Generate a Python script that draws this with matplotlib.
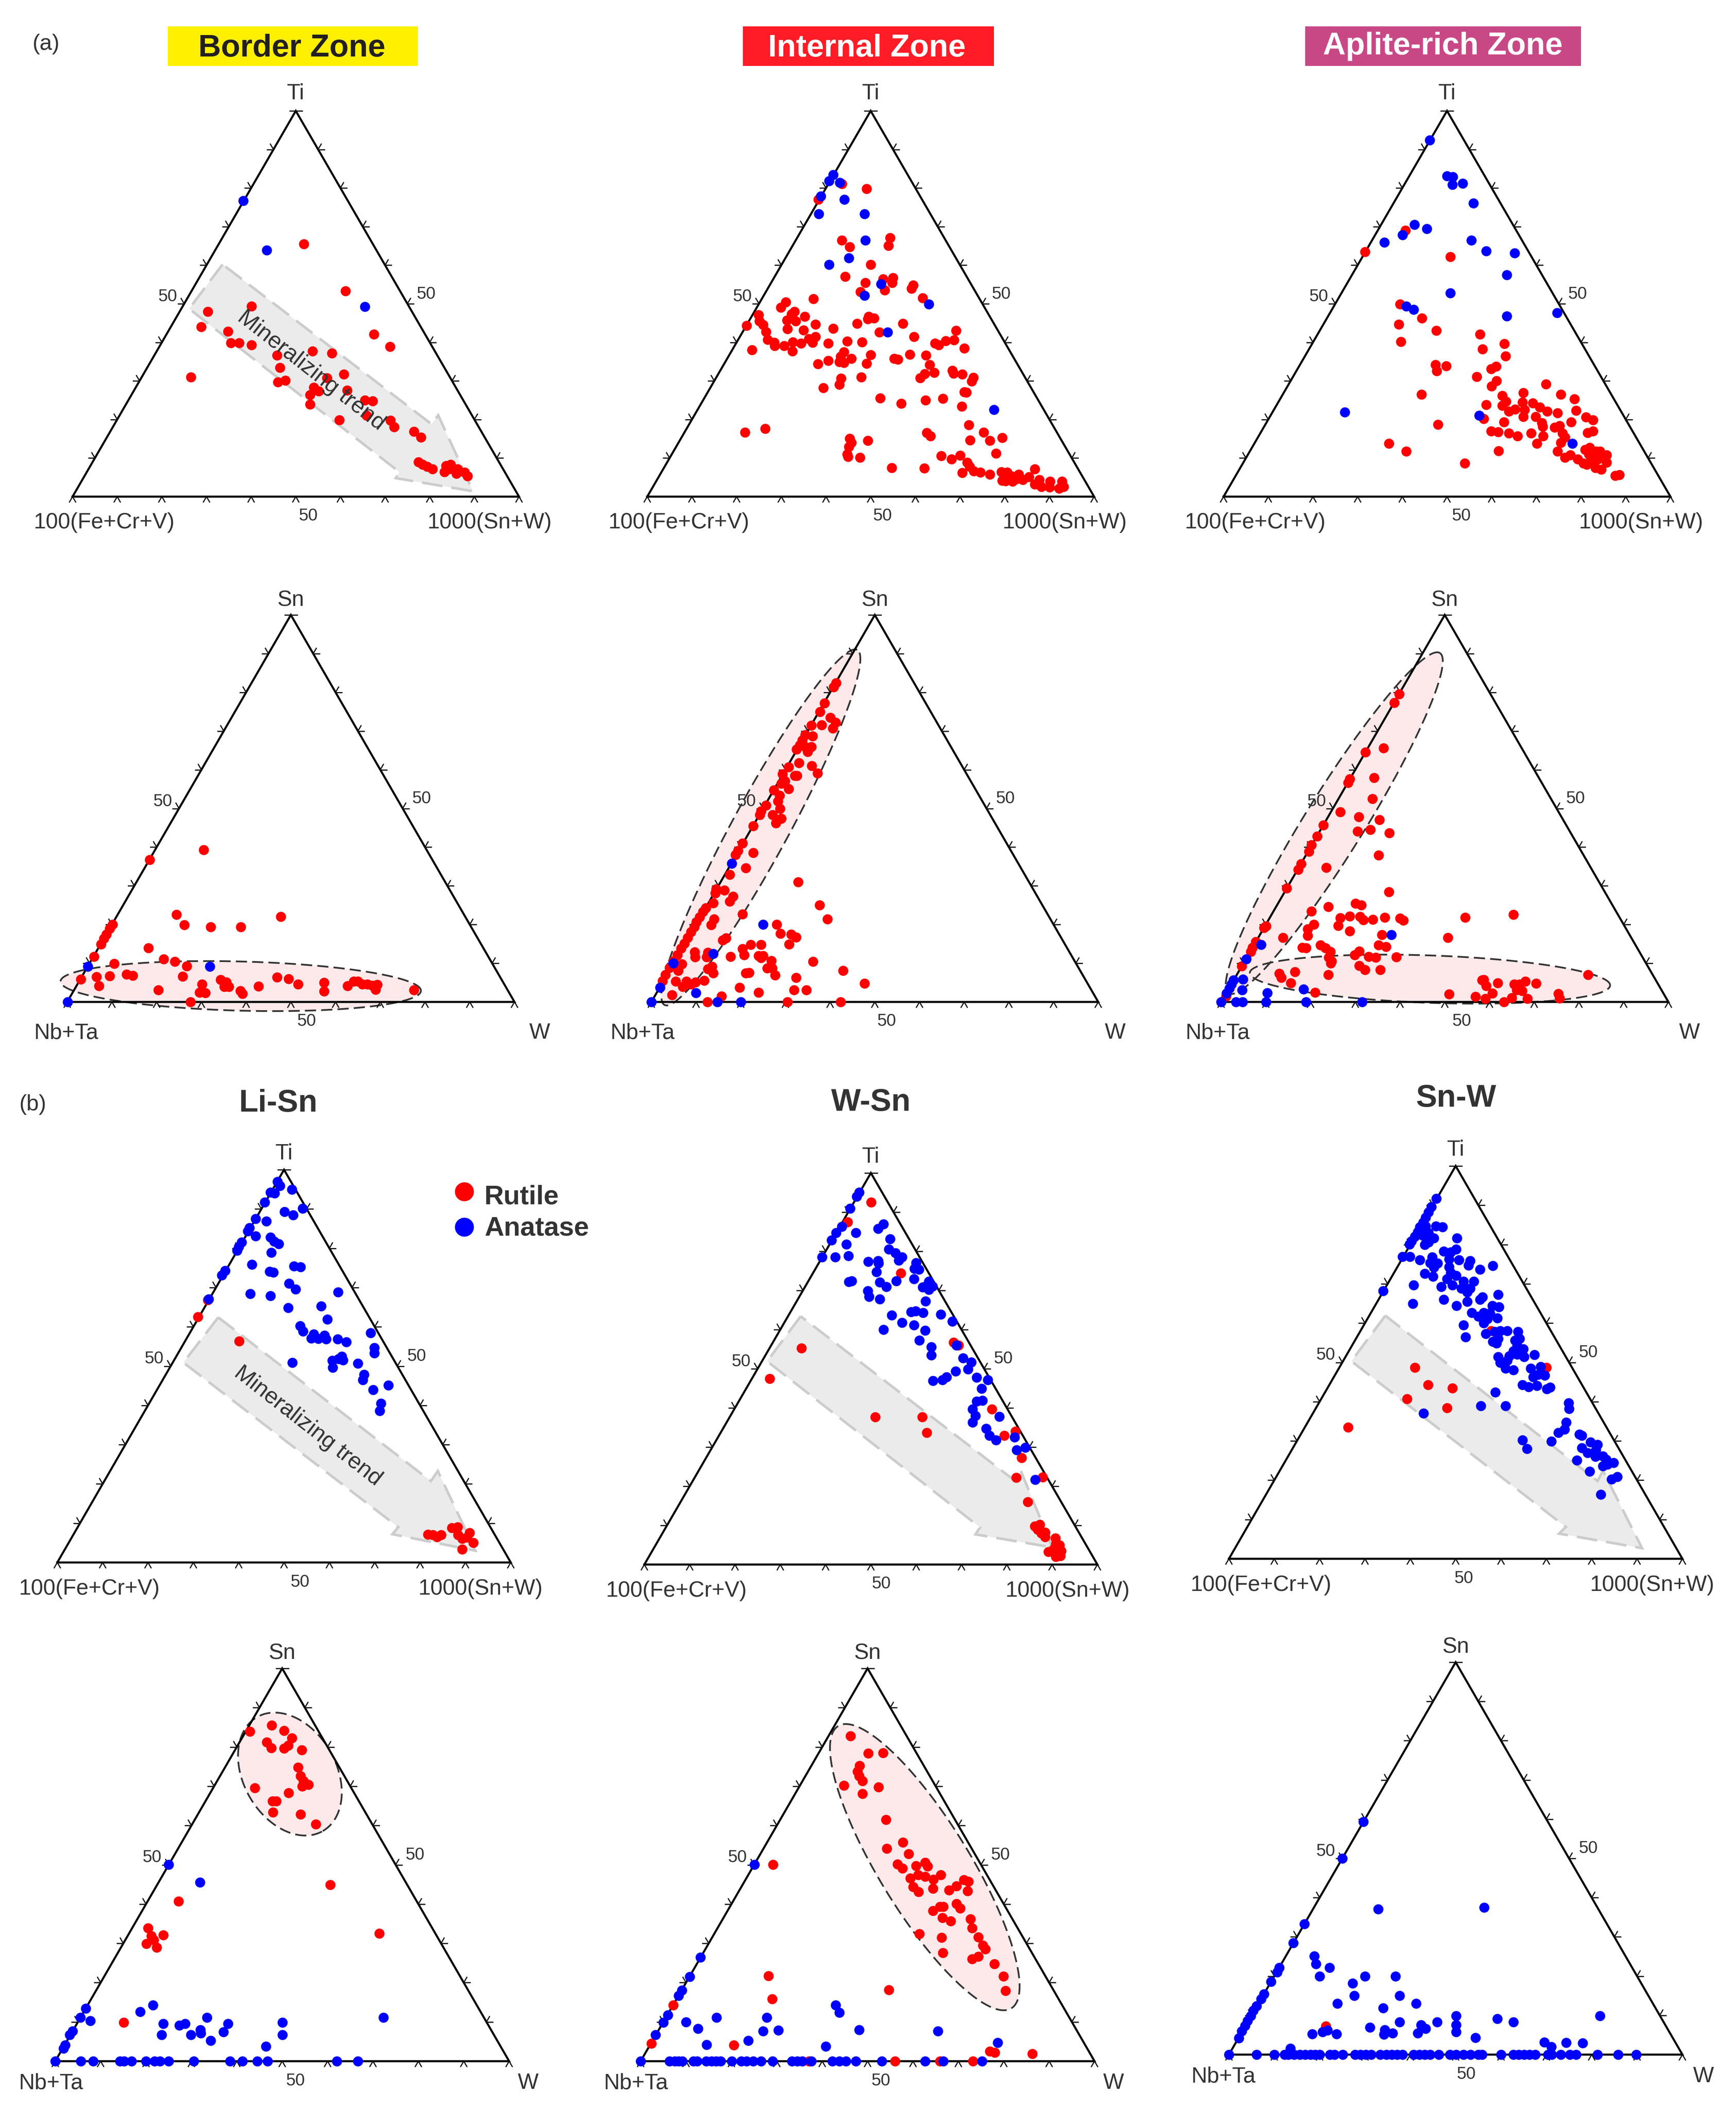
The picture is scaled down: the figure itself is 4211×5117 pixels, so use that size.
import numpy as np
import matplotlib
matplotlib.use("Agg")
import matplotlib.pyplot as plt

plt.rcParams['font.family'] = ['Liberation Sans', 'DejaVu Sans']

# Points are (position along the base in %, height towards the apex in %)

# Border Zone
bz_ti_rutile = [(51.8,65.5),(61.1,53.3),(40.1,49.4),(30.3,48.0),(28.8,44.0),(34.8,42.8),(35.5,39.8),(37.3,39.8),(40.1,39.3),(67.5,42.1),(71.1,38.9),(53.7,37.7),(58.1,37.2),(45.8,36.6),(46.4,33.4),(26.5,31.0),(60.8,31.7),(57.0,30.8),(46.0,29.7),(47.6,30.1),(54.0,28.3),(55.1,27.3),(53.2,26.4),(61.5,27.6),(53.2,23.9),(65.5,25.0),(67.2,24.8),(65.8,21.0),(59.7,19.9),(71.2,19.8),(72.0,18.1),(76.5,16.9),(78.0,15.4),(77.5,9.0),(78.4,8.3),(79.4,7.8),(80.6,7.2),(83.7,8.0),(84.7,8.3),(83.3,6.4),(84.3,7.2),(86.2,7.2),(86,6),(87.8,6.3),(88.5,5.3)]
bz_ti_anatase = [(38.2,76.7),(43.5,63.9),(65.5,49.2)]
bz_sn_rutile = [(30.5,39.3),(18.4,36.7),(24.4,22.6),(26.2,19.9),(32.1,19.4),(38.8,19.4),(47.7,22),(10.1,20),(9.5,19),(8.8,17.5),(8.2,16.4),(7.6,14.9),(6,11.7),(18.2,13.9),(21.6,11.1),(24.1,10.4),(26.7,9.3),(10.5,9.9),(6.5,6.5),(9.5,6.7),(13.3,7.1),(14.7,6.8),(3,5.9),(7.1,4.2),(25.8,6.6),(20.4,3.1),(30.1,4.6),(34.3,5.8),(35.6,5.1),(35.1,3.9),(36.1,3.9),(29.6,2.4),(30.9,2.3),(27.6,0),(38.7,2.9),(39.2,2.1),(42.8,4.1),(46.9,6.4),(49.5,6),(51.6,4.6),(57.4,5),(57.4,2.8),(62.7,4.2),(64.1,5.3),(65,5.3),(66,4.6),(67.1,4.6),(68.2,4.3),(69.3,4.5),(68.9,3.2),(77.5,3.1)]
bz_sn_anatase = [(4.6,9.2),(31.9,9.2),(0.1,0)]

# Internal Zone
iz_ti_rutile = [(43.5,81.1),(49.1,79.8),(38.3,77.0),(54.3,67.1),(54,65.1),(43.5,66.5),(45.3,64.7),(50,60.2),(44.3,57),(48.8,55.5),(52.8,56.4),(55,56.7),(54.8,55.5),(53.1,53.5),(59.5,54.8),(59.1,53.9),(47.7,53.1),(61.6,51.5),(37.2,51.3),(31,50.4),(29.9,49),(32.9,48),(32.3,47.3),(35.2,46.7),(31.3,45.7),(33.2,45.5),(24.9,47.1),(25.1,45.5),(25.9,44.6),(22.2,44.3),(31.4,43.5),(35,43.2),(37.6,44.7),(26.6,42.7),(26.9,40.7),(28.4,40),(28.5,39.1),(30.6,39.1),(32.6,40.1),(34.4,39.7),(36.2,40.9),(37.6,41.5),(37,40),(32.5,37.7),(23.4,38),(41.6,43.6),(47,44.9),(49.5,46.7),(49.4,46),(50.7,46.3),(57.2,44.9),(51.9,42.6),(59.7,41.4),(44.7,40.3),(48.1,40.1),(40.5,39.7),(69.1,43.1),(68.6,40.6),(66.8,40.4),(65.2,39.3),(64.4,39.7),(70.9,38.5),(44,37.5),(43.3,36.3),(45.7,35.8),(43,34.9),(44,34.7),(40.5,35.3),(38.2,34.4),(50,36.7),(49.1,34.5),(55.3,35.8),(56.1,35.6),(58.8,36.9),(62.4,36.6),(63.2,34.2),(64.2,32.2),(62.1,31.8),(61.1,30.8),(68.3,32.7),(68.5,31.9),(70.5,31.7),(73,30.9),(72.6,29.9),(47.9,31),(43.4,30.7),(43,29.1),(39.4,28.2),(70.9,27.1),(71.4,27),(52.1,25.5),(56.8,24.1),(62.3,25),(66.1,25.4),(70.4,23.4),(72,18.6),(75.3,16.7),(79.4,15.3),(76.7,14.5),(72.2,14.6),(62.5,16.6),(63.4,15.7),(78,11.2),(21.9,16.7),(26.4,17.6),(45.3,15.1),(45.7,14),(45.1,12.9),(49.4,14.5),(44.7,11),(44.9,10.4),(47.6,10.1),(54.7,7.5),(62,7.4),(65.8,10.6),(68.1,9.7),(70,10.7),(71.6,8.9),(72.1,7.8),(70.5,6.2),(73.1,6.6),(74.5,6.3),(76.7,5.8),(79.2,6.4),(80.5,6.3),(79.4,4.2),(80.2,4.1),(81.5,5.3),(81.7,3.9),(83.1,5.8),(82.7,4.6),(84,4.4),(85.4,5.1),(86.7,7.2),(86.7,3.2),(87.7,4.4),(88.2,2.6),(90.1,4),(90,2.5),(92.8,4),(92.2,2.1),(93.2,2.6)]
iz_ti_anatase = [(41.6,83.4),(40.7,81.8),(43.1,81.4),(38.8,77.9),(44.1,77),(38.4,73.3),(48.6,73.3),(48.8,66.4),(45.1,61.9),(40.7,60.2),(52.3,55.1),(48.6,52.1),(63,49.9),(53.8,42.6),(77.6,22.5)]
iz_sn_rutile = [(41.3,82.4),(40.8,81.4),(38.7,77.2),(37.7,75),(40,73.5),(41.2,72.2),(38.1,71.6),(40.6,70.7),(35.8,71.5),(34.4,69),(36.1,68.7),(33.8,67.6),(33.2,66.3),(35.8,65.9),(34.4,65.9),(32.5,65.3),(35,64.6),(33,61.8),(30.7,60.7),(35.9,61),(37.2,59.1),(29.3,58.9),(32.1,58.5),(32.6,58.5),(29.9,57.1),(29.1,56.4),(30.7,55.1),(27.4,54.7),(28.7,53.4),(28.3,51.9),(28.8,50),(25.6,50.8),(24.5,49.3),(24.3,48.3),(27.1,48.3),(29.1,47.4),(27.9,46.2),(22.8,45.5),(20.4,41),(19.4,39.1),(18.8,38),(22.8,38.5),(21.1,34.6),(17.5,32.9),(14.5,29.2),(14.3,28.1),(16.3,28.9),(18.3,27.3),(17.5,26),(13.8,25.6),(12.2,24.3),(11.5,23.3),(10.8,21.9),(10.1,20.7),(9.6,19.4),(8.9,18.1),(8.1,16.6),(7.4,15.1),(6.6,13.8),(5.8,12.1),(4.9,10.5),(4.1,8.8),(3.1,7),(2.5,5.4),(20.4,22.7),(14,21.4),(13.4,19.9),(16.7,16.5),(16,16),(9.7,12.9),(9.8,11.6),(12.6,12.8),(12.4,11.6),(6.8,9.8),(6,8.1),(12.6,8.5),(13.6,9.2),(13.8,7.5),(5.4,5.3),(7.8,5.3),(7,3.9),(8.9,4.6),(9.9,5.1),(11.8,5.5),(4.6,1.8),(15.7,1.5),(12.5,0),(32.8,31),(37.6,25),(39.4,21.4),(28,20),(28.9,17.7),(31.3,17.5),(32.4,16.7),(30.8,14.9),(22.2,14.8),(24.5,14.8),(20.4,13.7),(20.8,12.1),(17.7,11.7),(24,11.9),(25,11.9),(24.5,11.4),(26.8,10.7),(25.9,8.7),(27,8.7),(27.7,6.9),(21.1,7.5),(21.9,7.6),(36.2,10.4),(42.9,8.1),(32.4,6.3),(47.7,4.8),(19.7,3.7),(31.9,3.1),(34.7,3.1),(24,2.4),(30.4,0),(42.3,0)]
iz_sn_anatase = [(18,35.8),(25,20),(13.8,12.5),(4.9,10),(1.9,3.7),(10,2.3),(0,0),(14.8,0),(20,0)]

# Aplite-rich Zone
az_ti_rutile = [(40.7,69),(31.6,63.5),(50.7,62.2),(39.5,49.9),(39.2,44.7),(44.4,46.3),(47.6,43.1),(39.7,40.2),(57.4,42.1),(62.8,39.6),(57.9,38.2),(63.1,36.4),(47.4,34.2),(47.7,32.6),(49.8,33.9),(59.9,33.1),(61,33.8),(56.6,31.1),(61.1,30),(60,28.6),(72.1,29.2),(44.3,26.5),(62.4,26.2),(63.2,24.7),(62.4,23.6),(58.8,23.8),(67.1,26.9),(66.9,24.5),(69.2,24.3),(70.8,23.2),(72.4,22.1),(63.8,22.1),(65.2,22.7),(67.3,22.5),(67.1,20.7),(69.8,20.7),(75.5,26.5),(78.5,25.3),(78.9,22.3),(74.7,21.7),(81.1,20.6),(82.7,19.9),(77.8,19.3),(71.2,19.1),(71.4,18.2),(74.1,17.9),(75.2,18.4),(58.2,20.2),(62.7,19.3),(59.9,17),(61.4,16.8),(63.8,16.5),(65.8,15.7),(68.8,16.4),(71.5,15.7),(70.1,13.8),(75.8,16.4),(76.4,15.4),(81.5,16.6),(82.7,17),(75.5,14),(48,18.7),(37,13.8),(40.9,11.7),(54,8.7),(61.5,11.9),(74.7,11.7),(76.4,10.1),(77.6,10.8),(79.2,9.7),(80.5,8.7),(81.3,8.3),(80.9,12.2),(81.9,12.7),(83.4,11.8),(84.2,11.8),(85.7,10.8),(85.7,8.9),(83.8,9.7),(82.5,10.6),(81.7,11),(82.1,9.2),(83.2,7.5),(84.5,7.1),(87.6,5.5),(88.6,5.7)]
az_ti_anatase = [(46.1,92.4),(50,83.1),(51.3,82.9),(51.2,80.9),(53.5,81.2),(55.9,76.1),(42.7,70.5),(45.5,69.4),(40,67.8),(36,65.9),(55.4,66.5),(58.8,63.7),(65.1,63.1),(63.4,57.5),(50.7,52.8),(40.9,49.4),(42.5,48.5),(63.4,46.8),(74.6,47.7),(27.1,21.9),(57.2,21),(78,13.8)]
az_sn_rutile = [(39.8,79.6),(38.7,77.3),(36.3,65.6),(32.3,64.5),(34.2,57.9),(28.8,57.6),(28.4,56.7),(33.8,52.5),(26.6,49.1),(30.8,47.8),(35.4,47.1),(22.9,45.7),(33.4,44.5),(30.5,44.1),(37.6,43.7),(21.5,42.8),(20.2,40.6),(19.6,38.9),(35.2,37.9),(17.9,35.7),(17.2,34.2),(23.5,34.7),(14.7,29.4),(37.5,28.4),(30,25.4),(31.3,25),(24,24.6),(20.2,23.4),(26.6,21.7),(28.8,22.1),(31.1,22),(31.8,21.2),(33.9,21.3),(36.6,21.8),(40,21.6),(40.7,21.1),(54.6,21.8),(65.3,22.6),(20.7,20),(26.2,19.7),(10,19.6),(9.6,19.2),(19.4,18.8),(19.4,17.1),(28.8,18.3),(35.9,17.4),(13.8,16.6),(50.7,16.6),(7.7,15.6),(7,14.1),(6.6,13),(18.2,14.1),(19,14),(22.2,14.7),(23.3,13.9),(24.4,13),(35.2,14.7),(36.9,14.3),(30.9,13.1),(29.9,12.1),(24.1,11.5),(24.5,10),(24.7,10.5),(33,11.7),(34.6,11.5),(39.2,11.6),(30.9,9.4),(32.2,8.3),(35.6,8.3),(4.6,9.3),(13,7.3),(13.5,6.3),(16.5,7.8),(24,7),(15.6,4.9),(21,2.5),(51,2),(82,7),(56.9,1.4),(58.3,5.6),(58.7,5.8),(59.3,4.2),(61.8,4.9),(60.6,2.2),(59.1,0.9),(63.2,0),(65.5,4.6),(66.7,4.6),(68,5.3),(70.4,4.8),(66.1,3.1),(67.3,2.9),(65,1.1),(68.5,0.8),(75.4,2.1),(75.7,1),(1.1,1.5)]
az_sn_anatase = [(8.9,14.8),(5.6,11.1),(38.1,17.4),(4.9,5.9),(2.8,5.6),(2.3,4.6),(1.8,3.5),(1.2,2.2),(4.7,3.1),(10.3,2.3),(18.4,3.3),(0,0),(3.3,0),(4.8,0),(10,0),(19,0),(31.5,0)]

# Li-Sn
lisn_ti_rutile = [(31,62.5),(40.1,56.3),(33.2,66.8),(81.7,7.1),(82.8,7),(84.6,7),(83.7,6.5),(87,8.8),(88.3,9),(88.4,7),(90.9,7.6),(89.3,6.1),(90.4,6.4),(91.7,5),(89.3,3.4)]
lisn_ti_anatase = [(48.5,97),(49.1,95.9),(51.7,95),(47,94.2),(47.9,94),(45.7,91.7),(54.1,90.1),(50.1,89.3),(52,88.5),(43.7,87.5),(46.1,86.9),(42.4,85.2),(42,84.4),(43.7,83.1),(47,82.8),(47.8,81.7),(48.8,81.1),(40.6,81.5),(40,80.4),(39.6,79.4),(47.2,78.9),(42.9,75.9),(52.2,75.4),(53.6,75.2),(37,74.3),(36.3,73.1),(46.8,74.1),(47.6,73.9),(51.1,71),(52.5,69.6),(42.5,68.4),(47,67.9),(61.9,68.8),(33.4,67.1),(58.2,65.3),(50.9,64.8),(59.5,61.9),(53.5,60.2),(54.2,58.9),(56.5,58.1),(56,57.1),(57.5,57),(58.9,57.8),(59.3,56.9),(61.8,56.9),(63.7,56.1),(69.1,58.4),(69.9,54.7),(69.9,53.3),(51.8,50.9),(62.7,52.5),(62,51.8),(63,51.5),(60.6,51.4),(60.7,49.6),(66.3,50.7),(67.6,47.9),(67.4,46.5),(73,45.1),(69.6,44),(71.4,40.5),(71.1,38.6)]
lisn_sn_rutile = [(42.9,83.9),(47.7,85.5),(50.4,84.2),(52.1,82.3),(46.6,81.2),(47.6,79.7),(51.3,80.4),(50.4,79.6),(54.3,79.2),(53.5,74.8),(54,72.6),(54.7,71.4),(55.8,70.4),(54.4,70),(44,69.6),(51.4,68.3),(47.9,66.2),(48.7,66.2),(48,63.4),(54,62.9),(57.4,60.3),(60.6,44.9),(27.2,40.7),(71.4,32.5),(20.4,33.9),(21.2,31.9),(23.8,32.1),(21.7,30.9),(20.1,29.9),(22.3,29),(15.1,9.9)]
lisn_sn_anatase = [(25,50.1),(31.9,45.5),(6.7,13.4),(5.5,11.1),(7.7,10.3),(3.8,7.7),(3.2,6.7),(2.2,4.1),(1.8,3.3),(21.5,14.3),(18.7,12.6),(33.4,11.1),(23.8,9.5),(27.3,9.1),(28.6,9.5),(38.1,9.5),(23.4,6.7),(29.9,6.7),(32,8),(32.1,7.1),(34.2,5.2),(37.1,7.4),(50,9.9),(50,6.7),(72.3,11.1),(46.4,3.8)]
lisn_sn_anatase_base = [0,5.6,8.4,14.3,15.2,16.8,20,21.9,23.1,25,30.5,38.5,41.2,44.5,46.8,62,66.7]

# W-Sn
wsn_ti_rutile = [(50,92.5),(44.9,87.5),(56.6,74.4),(68.2,56.7),(69.3,56),(76.7,39.7),(34.7,55.3),(27.7,47.5),(51,37.7),(61.3,37.7),(62.3,33.7),(79.4,33),(81.9,34),(83.3,27.3),(82.1,22.2),(87.9,22.3),(84.6,16),(86.2,9.8),(87.3,10.2),(86.8,8.9),(88.4,8.2),(87.6,8),(88.4,7.1),(90.7,6.7),(90.8,5.3),(91.6,4.9),(89.2,3.3),(90.4,4),(90.8,2.7),(92,3.5),(91.8,2.2),(90.8,2)]
wsn_ti_anatase = [(47.4,95.1),(46.9,94),(45.4,91),(43.6,86.3),(42.3,84.7),(41.3,82.8),(46.7,84.7),(44.6,81.8),(39.2,78.5),(42.1,78.5),(45,78.8),(52.8,87),(51.6,85.8),(54.2,83.2),(54,80.5),(55.4,79.6),(56.9,78.5),(56.1,77.7),(49.4,77.4),(51.6,77.6),(51.7,76.9),(60,77.1),(59.6,75.6),(60.6,75.4),(51.2,74.7),(55.6,72.4),(59.5,73),(52,72.1),(53.4,71),(45.8,72.4),(45.1,72.2),(49.3,69.9),(49.6,68.4),(52,67.8),(62.8,72.3),(62.4,71.4),(63.6,71.1),(61.4,70.8),(62.8,70.2),(62.1,67.3),(58.9,64.5),(59.9,64.7),(61.5,64.3),(65.4,63.9),(54.6,63.7),(56.9,61.8),(59.5,61.2),(52.8,60),(62,59.8),(68,62.1),(60.7,57.3),(63.3,55.6),(63.3,53.5),(68.9,56),(70.3,52.7),(72.2,51.7),(71.4,49.9),(68.7,49.4),(66.7,47.9),(65.8,47.2),(63.7,46.9),(73.3,47.8),(75.8,47.2),(74.4,45),(73.3,41.7),(74.6,41.9),(72.4,39.7),(73.1,38),(72.4,36.3),(78.3,37.8),(75.4,34.7),(76.2,33),(77.6,31.8),(81.7,32.5),(84.1,29.9),(82.2,29.3),(86.3,21.7)]
wsn_sn_rutile = [(46.2,82.8),(50.1,78.4),(53.4,78.5),(48.2,75.2),(47.8,73.8),(48.1,72.6),(48.9,71.4),(44.8,70.2),(52.4,69.8),(48.9,68.1),(54,61.5),(54.2,54.1),(57.8,55.7),(59,52.8),(56.6,50.2),(57.7,49.1),(60.7,49.7),(62.7,50.6),(63.2,49.6),(61.1,47.4),(62.7,47),(59.4,46.6),(66.1,47.4),(64.5,46.3),(64.4,44),(60,44.4),(61.2,43.1),(67.9,43.5),(69.6,44.6),(71.2,46.2),(72.2,45.8),(72,43.3),(69.6,40.1),(70.4,38.9),(65.9,39.3),(66.7,39.3),(64.4,38.3),(66.5,36.5),(68.3,35.7),(72.7,36.2),(73,33.9),(61.4,32.4),(66.3,31.5),(74.4,31.6),(75.4,29.5),(75.9,28.5),(66.6,27.6),(74.4,26.7),(73,26),(77.9,24.8),(79.9,21.6),(80.4,17.9),(29.2,50.1),(28.2,21.7),(29,15.8),(54.7,18.2),(7.2,14.3),(2.4,4.5),(20.5,4.1),(76.9,2.5),(78,2.2),(86.3,1.9),(37.1,0),(56,0),(65.9,0),(73.2,0)]
wsn_sn_anatase = [(25.1,50.1),(13.2,26.4),(10.8,21.5),(9.1,18.1),(8.4,16.7),(6,11.8),(5,9.9),(3.3,6.7),(10,10),(12.6,8.3),(16.7,11.1),(14.5,4.2),(23.7,5.2),(27.8,11.1),(27,7.7),(30.3,7.9),(40.8,3.8),(43,14.3),(43.8,12.4),(48.1,8),(65.5,7.7),(78.7,4.7)]
wsn_sn_anatase_base = [0,6.4,7.5,8.4,9.2,11.6,12.4,14.4,15.6,16.6,17.6,20.1,22.2,23.3,24.8,26.5,29.1,33.3,34.5,35.6,37.6,42.2,43.8,45.2,47.4,53.1,62.7,66.7,75.2]

# Sn-W
snw_ti_rutile = [(41,48.7),(43.9,44.3),(49.3,43.4),(39.3,40.7),(48.1,38.4),(26.3,33.5),(57.8,58),(70,48.7)]
snw_ti_anatase = [(45.7,91.7),(44.6,89.6),(44,88.2),(43.4,86.9),(42.8,85.6),(42.1,84.5),(41.6,83.2),(41,82.1),(40.3,80.9),(39.8,80.1),(43.4,84.7),(44,83),(42.8,82.3),(45.2,81.6),(44,80.6),(43.2,80),(45.6,84.7),(47.1,84.5),(50.3,81.6),(50.1,78.8),(47.4,78.3),(48.9,78.1),(38.3,76.9),(39.9,76.9),(42.1,76.1),(44.8,76.8),(44.4,75.3),(46,75.2),(48.5,76.3),(50.7,76.1),(53.2,75.9),(52.8,74.7),(55.4,73.7),(58.2,74.6),(45.2,74.2),(43.2,72.6),(45,71.9),(48.5,74.3),(48.9,72.8),(50.1,72.1),(48.1,71.2),(49.3,69.7),(46.8,69.3),(51.7,70.6),(54,70.6),(40.7,69.7),(34,68.2),(51.3,68.8),(52.5,67.9),(53.2,68.8),(59.4,67.3),(40.5,65),(47.4,66),(52.5,65.5),(55.4,66),(50.2,64.4),(55.9,66.6),(58.1,64.4),(59.5,64.1),(53.5,62.6),(55,61.7),(56.2,62.6),(57.5,62.5),(56.2,60),(57,61.1),(59.2,61.3),(51.7,59.5),(52.2,56.5),(56.6,57.3),(58.6,57.8),(59.8,58),(61.4,58),(63.7,57.8),(58.2,55.3),(59.4,56),(59,54.9),(63.1,55.6),(64.1,56),(63.5,54.2),(62.7,52.9),(64.9,53.4),(61.8,51.6),(63.5,52),(65.1,51.4),(67.4,51.9),(59.4,51.4),(59.8,50),(61.4,50.5),(61,48.5),(62.7,48.1),(66.5,48.5),(68.7,48.9),(67.1,46.3),(69.6,46.7),(68.2,46.9),(64.7,44.3),(66.1,43.8),(67.9,44.1),(70.8,43.6),(70.1,43.2),(58.7,42.4),(61,38.9),(55.5,38.9),(42.9,37),(74.9,39.7),(75,38.2),(74.4,34.7),(74,33),(72.6,32.1),(71.1,29.9),(64.7,30.2),(65.7,28),(77.3,31.7),(77.8,31.4),(79.7,29.7),(81.3,29.1),(77.8,28.2),(79.1,27),(80.9,27.7),(80.8,26),(82.5,26.1),(83.2,25.3),(76.7,25.1),(82.5,23.6),(84.8,24.4),(83.5,24),(79.5,22.2),(85.6,20.9),(84.4,20.2),(82,16.4)]
snw_sn_rutile = [(21.4,7.3)]
snw_sn_anatase = [(29.6,59.3),(25,50),(16.6,33.3),(14.2,28.5),(11.1,22.2),(10.6,21),(9.3,18.6),(7.7,15.4),(7.1,14.2),(6.1,12.4),(5.4,11.2),(4.8,9.9),(4.1,8.6),(3.5,7.4),(2.8,6),(2.2,4.2),(32.9,37.1),(56.3,37.5),(18.8,25.1),(19.2,23.1),(22.2,22.2),(20,20),(30,20),(36.7,20),(27.3,18.2),(27.6,15),(37.6,15),(23.9,13),(41.3,13),(34,11.9),(50.1,9.9),(50.1,7.6),(50.1,5.8),(59.2,9.1),(62.7,8.3),(81.8,9.9),(37.6,8.3),(45.9,8.3),(42.4,7.6),(43.4,6.6),(41.6,5.5),(31.1,6.9),(34.4,6.3),(34.2,5.1),(36.1,5.5),(21.7,6.2),(20.6,5.8),(18.4,5.2),(23.7,5.2),(54.4,4.3),(13.5,1.6),(69.5,3.1),(71.1,2),(74.4,3),(78,2.9)]
snw_sn_anatase_base = [0,6.1,10,12.3,13.1,14.4,15.6,16.8,18,19,20,22.3,23.3,25.1,27.8,29,30.2,31.4,33.4,34.7,35.9,37.1,38.3,40.7,42,43.2,44.4,46.3,48.7,50.1,51.7,53.3,55,55.8,60,62.7,63.9,65.1,66.3,67.5,70.4,71.2,73.2,75.2,76.5,81.3,85.8,89.8]

W, H = 4211, 5117
RED = '#ff0000'
BLUE = '#0000ff'
TEXT = '#333333'
DOT = 310

fig = plt.figure(figsize=(W / 100, H / 100), dpi=100, facecolor='white')


def make_axes(left, right, top, base):
    ax = fig.add_axes([left / W, 1 - base / H, (right - left) / W, (base - top) / H])
    ax.set_xlim(0, 100)
    ax.set_ylim(0, 100)
    ax.axis('off')
    ax.px = ((right - left) / 100, (base - top) / 100)
    return ax


def draw_triangle(ax):
    ax.plot([0, 50, 100, 0], [0, 100, 0, 0], color='black', lw=3.6, zorder=3,
            clip_on=False, solid_joinstyle='miter')
    sx, sy = ax.px
    tick = 15
    edges = [
        (lambda t: (t * 50, t * 100), 150),
        (lambda t: (100 - t * 50, t * 100), 30),
        (lambda t: (t * 100, 0), 270),
    ]
    for pos, normal in edges:
        for t in np.arange(0, 1.01, 0.1):
            if normal != 270 and t == 0:
                continue
            x0, y0 = pos(t)
            for da in (-30, 30):
                a = np.radians(normal + da)
                # the apex only has a flat bar
                if normal != 270 and t > 0.95 and np.sin(a) > 0.5:
                    continue
                ax.plot([x0, x0 + tick * np.cos(a) / sx], [y0, y0 + tick * np.sin(a) / sy],
                        color='#111111', lw=2, zorder=3, clip_on=False)


def draw_labels(ax, top_name, left_name, right_name, top_y, ly, lx, rx, mid_x):
    ax.text(50, top_y, top_name, ha='center', va='center', fontsize=38.5, color=TEXT)
    ax.text(lx, ly, left_name, ha='center', va='center', fontsize=38.5, color=TEXT)
    ax.text(rx, ly, right_name, ha='center', va='center', fontsize=38.5, color=TEXT)
    ax.text(21.3, 51.8, '50', ha='center', va='center', fontsize=30, color=TEXT)
    ax.text(79.2, 52.5, '50', ha='center', va='center', fontsize=30, color=TEXT)
    ax.text(mid_x, -5, '50', ha='center', va='center', fontsize=30, color=TEXT)


def draw_points(ax, rutile, anatase, base=None):
    rx, ry = np.array(rutile).T
    ax.scatter(rx, ry, s=DOT, c=RED, linewidths=0, zorder=4, clip_on=False)
    ax_pts = np.array(anatase).T
    ax.scatter(ax_pts[0], ax_pts[1], s=DOT, c=BLUE, linewidths=0, zorder=5, clip_on=False)
    if base is not None:
        ax.scatter(base, np.zeros(len(base)), s=DOT, c=BLUE, linewidths=0, zorder=5, clip_on=False)


def draw_ellipse(ax, cx, cy, a, b, angle):
    # a, b in % of the side, angle measured on the real (equilateral) triangle
    t = np.linspace(0, 2 * np.pi, 200)
    r = np.radians(angle)
    dx = a * np.cos(t) * np.cos(r) - b * np.sin(t) * np.sin(r)
    dy = a * np.cos(t) * np.sin(r) + b * np.sin(t) * np.cos(r)
    ax.fill(cx + dx, cy + dy / 0.866, facecolor='#fde8ea', edgecolor='none', zorder=1, clip_on=False)
    ax.plot(cx + dx, cy + dy / 0.866, color='#333333', lw=3, ls=(0, (6.5, 3)), zorder=2, clip_on=False)


def draw_arrow(ax, x, y):
    ax.fill(x, y, facecolor='#ebebeb', edgecolor='#cccccc', lw=4.5, ls=(0, (8, 3.5)),
            zorder=1, clip_on=False)


# layout of the twelve triangles: left, right, apex y, base y in image pixels
bz_ti = make_axes(176, 1259, 269, 1205)
iz_ti = make_axes(1570, 2654, 269, 1205)
az_ti = make_axes(2968, 4052, 269, 1205)
bz_sn = make_axes(163, 1248, 1492, 2431)
iz_sn = make_axes(1580, 2664, 1492, 2431)
az_sn = make_axes(2962, 4047, 1492, 2431)
lisn_ti = make_axes(139, 1239, 2838, 3791)
wsn_ti = make_axes(1563, 2662, 2846, 3796)
snw_ti = make_axes(2981, 4081, 2829, 3782)
lisn_sn = make_axes(134, 1235, 4048, 5001)
wsn_sn = make_axes(1554, 2655, 4048, 5001)
snw_sn = make_axes(2981, 4081, 4033, 4985)

# mineralizing trend arrows
draw_arrow(bz_ti, [33.6, 26.1, 73.2, 72.4, 89.7, 81.9, 80.4], [60.2, 48.7, 6.4, 4.8, 1.4, 21.1, 18.8])
draw_arrow(lisn_ti, [35.5, 27.8, 75.2, 73.9, 92.2, 83.9, 82.4], [62.4, 50.9, 9.0, 7.2, 3.0, 23.3, 20.7])
draw_arrow(wsn_ti, [34.5, 27.1, 74.1, 73.1, 90, 83.1, 81.9], [63.4, 51.9, 9.5, 7.7, 4.4, 23.9, 21.3])
draw_arrow(snw_ti, [34.5, 27, 74.3, 72.8, 91.1, 82.5, 81.3], [61.9, 50.3, 8.1, 6.4, 2.7, 22.4, 19.8])
bz_ti.text(53.4, 32.6, 'Mineralizing trend', rotation=-38, ha='center', va='center',
           rotation_mode='anchor', fontsize=40, color=TEXT, zorder=6)
lisn_ti.text(55.2, 34.7, 'Mineralizing trend', rotation=-38, ha='center', va='center',
             rotation_mode='anchor', fontsize=40, color=TEXT, zorder=3)

# dashed fields
draw_ellipse(bz_sn, 38.8, 4.1, 40.3, 5.5, -1.5)
draw_ellipse(iz_sn, 24.5, 45.1, 45.2, 6.3, 61.5)
draw_ellipse(az_sn, 25.3, 46.2, 44.8, 6.6, 58.2)
draw_ellipse(az_sn, 46.7, 5.9, 40.3, 5.3, -2)
draw_ellipse(lisn_sn, 51.7, 73.1, 14.5, 10.2, -60)
draw_ellipse(wsn_sn, 62.6, 49.4, 36.5, 10, -58.5)

# text placement per diagram: apex label y, corner label y, left x, right x, base "50" x
draw_triangle(bz_ti)
draw_labels(bz_ti, 'Ti', '100(Fe+Cr+V)', '1000(Sn+W)', 104.5, -6.7, 7.1, 93.4, 52.8)
draw_triangle(iz_ti)
draw_labels(iz_ti, 'Ti', '100(Fe+Cr+V)', '1000(Sn+W)', 104.5, -6.7, 7.1, 93.4, 52.6)
draw_triangle(az_ti)
draw_labels(az_ti, 'Ti', '100(Fe+Cr+V)', '1000(Sn+W)', 104.5, -6.7, 7.1, 93.4, 53.2)
draw_triangle(bz_sn)
draw_labels(bz_sn, 'Sn', 'Nb+Ta', 'W', 103.8, -8, -0.2, 105.6, 53.5)
draw_triangle(iz_sn)
draw_labels(iz_sn, 'Sn', 'Nb+Ta', 'W', 103.8, -8, -2, 103.8, 52.6)
draw_triangle(az_sn)
draw_labels(az_sn, 'Sn', 'Nb+Ta', 'W', 103.8, -8, -0.8, 104.7, 53.8)
draw_triangle(lisn_ti)
draw_labels(lisn_ti, 'Ti', '100(Fe+Cr+V)', '1000(Sn+W)', 104.1, -6.7, 7.1, 93.4, 53.5)
draw_triangle(wsn_ti)
draw_labels(wsn_ti, 'Ti', '100(Fe+Cr+V)', '1000(Sn+W)', 104.1, -6.7, 7.1, 93.4, 52.3)
draw_triangle(snw_ti)
draw_labels(snw_ti, 'Ti', '100(Fe+Cr+V)', '1000(Sn+W)', 104.1, -6.7, 7.1, 93.4, 51.8)
draw_triangle(lisn_sn)
draw_labels(lisn_sn, 'Sn', 'Nb+Ta', 'W', 103.8, -5.6, -0.9, 104.2, 52.9)
draw_triangle(wsn_sn)
draw_labels(wsn_sn, 'Sn', 'Nb+Ta', 'W', 103.8, -5.6, -1, 104.2, 52.9)
draw_triangle(snw_sn)
draw_labels(snw_sn, 'Sn', 'Nb+Ta', 'W', 103.8, -5.6, -1.2, 104.6, 52.3)

draw_points(bz_ti, bz_ti_rutile, bz_ti_anatase)
draw_points(iz_ti, iz_ti_rutile, iz_ti_anatase)
draw_points(az_ti, az_ti_rutile, az_ti_anatase)
draw_points(bz_sn, bz_sn_rutile, bz_sn_anatase)
draw_points(iz_sn, iz_sn_rutile, iz_sn_anatase)
draw_points(az_sn, az_sn_rutile, az_sn_anatase)
draw_points(lisn_ti, lisn_ti_rutile, lisn_ti_anatase)
draw_points(wsn_ti, wsn_ti_rutile, wsn_ti_anatase)
draw_points(snw_ti, snw_ti_rutile, snw_ti_anatase)
draw_points(lisn_sn, lisn_sn_rutile, lisn_sn_anatase, lisn_sn_anatase_base)
draw_points(wsn_sn, wsn_sn_rutile, wsn_sn_anatase, wsn_sn_anatase_base)
draw_points(snw_sn, snw_sn_rutile, snw_sn_anatase, snw_sn_anatase_base)


def fig_text(x, y, s, **kw):
    fig.text(x / W, 1 - y / H, s, **kw)


def title_box(x0, x1, y0, y1, color):
    fig.patches.append(plt.Rectangle((x0 / W, 1 - y1 / H), (x1 - x0) / W, (y1 - y0) / H,
                                     transform=fig.transFigure, facecolor=color,
                                     edgecolor='none', zorder=-1))


title_box(407, 1014, 64, 160, '#fff000')
title_box(1802, 2411, 64, 160, '#ff1c26')
title_box(3166, 3835, 64, 160, '#c84885')
fig_text(708, 117, 'Border Zone', ha='center', va='center', fontsize=55, fontweight='bold', color='#231f20')
fig_text(2103, 117, 'Internal Zone', ha='center', va='center', fontsize=55, fontweight='bold', color='white')
fig_text(3500, 113, 'Aplite-rich Zone', ha='center', va='center', fontsize=55, fontweight='bold', color='white')
fig_text(112, 107, '(a)', ha='center', va='center', fontsize=39, color=TEXT)
fig_text(80, 2680, '(b)', ha='center', va='center', fontsize=39, color=TEXT)
fig_text(675, 2678, 'Li-Sn', ha='center', va='center', fontsize=55, fontweight='bold', color=TEXT)
fig_text(2113, 2676, 'W-Sn', ha='center', va='center', fontsize=55, fontweight='bold', color=TEXT)
fig_text(3532, 2665, 'Sn-W', ha='center', va='center', fontsize=55, fontweight='bold', color=TEXT)

# legend
legend_ax = fig.add_axes([0, 0, 1, 1], facecolor='none')
legend_ax.set_xlim(0, W)
legend_ax.set_ylim(H, 0)
legend_ax.axis('off')
legend_ax.scatter([1126], [2891], s=1100, c=RED, linewidths=0)
legend_ax.scatter([1126], [2977], s=1100, c=BLUE, linewidths=0)
legend_ax.text(1175, 2905, 'Rutile', ha='left', va='center', fontsize=47, fontweight='bold', color=TEXT)
legend_ax.text(1175, 2980, 'Anatase', ha='left', va='center', fontsize=47, fontweight='bold', color=TEXT)

fig.savefig('out.png', dpi=100, facecolor='white')
